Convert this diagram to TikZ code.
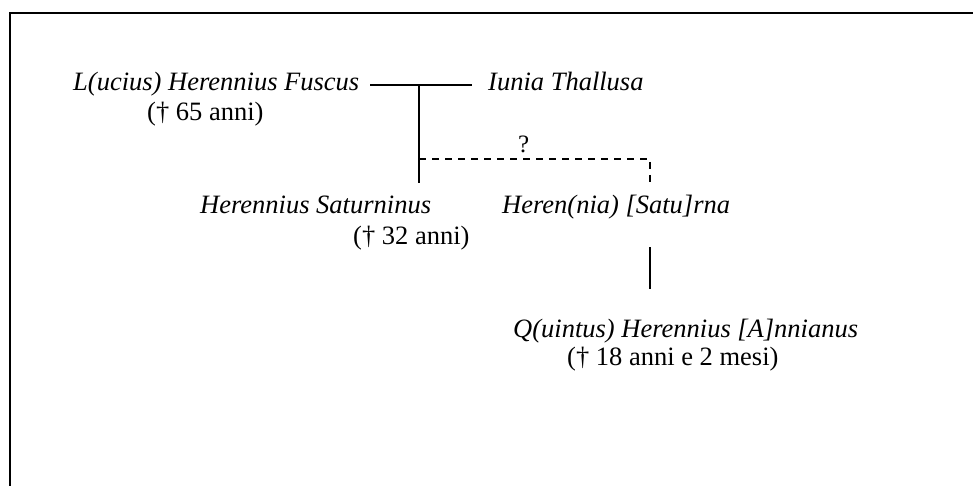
\documentclass[tikz,border=0pt]{standalone}
\usepackage{fontspec}
\setmainfont{Liberation Serif}
\begin{document}
\begin{tikzpicture}[x=1pt,y=-1pt,
  person/.style={anchor=base west,inner sep=0pt,font=\fontsize{26.5}{31}\selectfont\itshape},
  note/.style={anchor=base west,inner sep=0pt,font=\fontsize{26.5}{31}\selectfont},
  link/.style={line width=1.8pt},
  doubtful/.style={line width=1.8pt,dash pattern=on 7pt off 6pt}]
\useasboundingbox (0,0) rectangle (973,486);
% frame (top and left edges)
\draw[line width=2pt] (9.7,486) -- (9.7,13) -- (973,13);

% people
\node[person] (fuscus) at (73,91) {L(ucius) Herennius Fuscus};
\node[note] (fuscusd) at (147,121) {(† 65 anni)};
\node[person] (thallusa) at (488,91) {Iunia Thallusa};
\node[person] (saturninus) at (200,214) {Herennius Saturninus};
\node[note] (saturninusd) at (353,244) {(† 32 anni)};
\node[person] (saturna) at (502,214) {Heren(nia) [Satu]rna};
\node[person] (annianus) at (513,337) {Q(uintus) Herennius [A]nnianus};
\node[note] (annianusd) at (567,365) {(† 18 anni e 2 mesi)};
\node[note,font=\fontsize{25}{29}\selectfont] (q) at (518,153) {?};

% connector end points
\coordinate (mL) at (370,85);
\coordinate (mR) at (472,85);
\coordinate (mJ) at (419,85);
\coordinate (sTop) at (419,183);
\coordinate (dJ) at (419,159);
\coordinate (hTop) at (650,183);
\coordinate (hBot) at (650,247);
\coordinate (aTop) at (650,289);

% connectors
\draw[link] (mL) -- (mR);
\draw[link] (mJ) -- (sTop);
\draw[doubtful] (dJ) -| (hTop);
\draw[link] (hBot) -- (aTop);
\end{tikzpicture}
\end{document}
